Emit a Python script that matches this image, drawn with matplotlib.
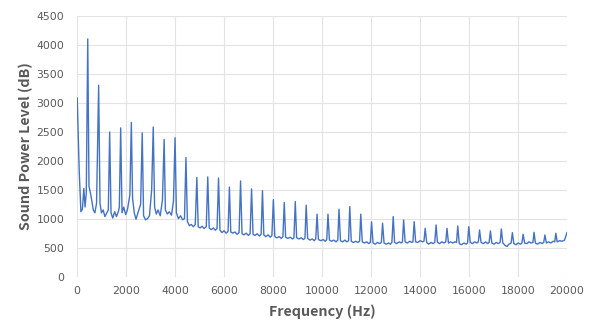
import matplotlib
matplotlib.use("Agg")
import matplotlib.pyplot as plt

plt.rcParams['font.family'] = ['Noto Sans CJK JP', 'DejaVu Sans']

# Harmonic peaks (Hz, level)
peak_freq = [430, 875, 1325, 1775, 2210, 2655, 3105, 3550, 3995, 4440,
             4885, 5330, 5770, 6215, 6670, 7120, 7565, 8010, 8455, 8905,
             9350, 9795, 10240, 10690, 11130, 11580, 12020, 12470, 12905, 13330,
             13760, 14210, 14655, 15100, 15540, 15990, 16430, 16875, 17320, 17770,
             18210, 18655, 19100, 19545]
peak_level = [4100, 3300, 2495, 2565, 2660, 2480, 2580, 2365, 2395, 2055,
              1710, 1720, 1700, 1545, 1650, 1512, 1483, 1328, 1277, 1294,
              1232, 1077, 1077, 1163, 1208, 1077, 945, 922, 1036, 978,
              948, 834, 891, 834, 874, 862, 805, 788, 822, 759,
              731, 765, 719, 748]

# Background (between-peak) spectrum points
base_freq = [0, 80, 150, 210, 270, 320, 370,
             480, 540, 600, 655, 720, 790,
             930, 990, 1060, 1130, 1210, 1270,
             1380, 1450, 1530, 1600, 1680, 1720,
             1830, 1900, 1980, 2050, 2150,
             2260, 2330, 2400, 2480, 2590,
             2710, 2790, 2870, 2950, 3040,
             3160, 3230, 3300, 3390, 3480,
             3600, 3680, 3760, 3850, 3930,
             4050, 4130, 4220, 4300, 4380,
             4500, 4580, 4660, 4740, 4820,
             4940, 5020, 5100, 5180, 5270,
             5390, 5470, 5560, 5640, 5710,
             5830, 5910, 6000, 6080, 6160,
             6270, 6350, 6440, 6530, 6610,
             6730, 6810, 6900, 6990, 7060,
             7180, 7260, 7350, 7440, 7510,
             7620, 7700, 7800, 7880, 7950,
             8070, 8150, 8250, 8330, 8400,
             8510, 8600, 8700, 8790, 8850,
             8960, 9050, 9150, 9230, 9300,
             9410, 9500, 9600, 9680, 9740,
             9850, 9950, 10050, 10130, 10190,
             10300, 10390, 10480, 10570, 10640,
             10750, 10840, 10930, 11010, 11080,
             11190, 11280, 11370, 11460, 11530,
             11640, 11730, 11820, 11900, 11970,
             12080, 12170, 12260, 12350, 12420,
             12530, 12620, 12710, 12790, 12850,
             12960, 13050, 13150, 13230, 13280,
             13390, 13480, 13580, 13660, 13710,
             13820, 13910, 14000, 14100, 14160,
             14270, 14350, 14450, 14530, 14600,
             14710, 14800, 14890, 14980, 15050,
             15160, 15250, 15340, 15420, 15490,
             15600, 15690, 15790, 15880, 15940,
             16050, 16140, 16230, 16320, 16380,
             16490, 16580, 16680, 16760, 16820,
             16930, 17020, 17110, 17200, 17270,
             17380, 17470, 17550, 17630, 17720,
             17830, 17920, 18010, 18100, 18160,
             18270, 18360, 18450, 18540, 18610,
             18710, 18800, 18900, 18980, 19050,
             19160, 19250, 19340, 19430, 19500,
             19600, 19700, 19800, 19900, 20000]
base_level = [3080, 1840, 1120, 1160, 1520, 1200, 1440,
              1560, 1440, 1300, 1150, 1100, 1265,
              1265, 1100, 1150, 1035, 1100, 1150,
              1100, 1010, 1120, 1035, 1120, 1200,
              1100, 1200, 1070, 1150, 1410,
              1350, 1100, 990, 1100, 1250,
              1050, 980, 1000, 1050, 1495,
              1200, 1080, 1150, 1050, 1320,
              1150, 1080, 1120, 1060, 1300,
              1100, 1000, 1050, 980, 1000,
              950, 880, 900, 860, 900,
              860, 840, 870, 830, 860,
              840, 810, 840, 800, 830,
              800, 760, 790, 750, 780,
              770, 750, 770, 730, 760,
              740, 720, 750, 710, 740,
              730, 710, 740, 700, 730,
              720, 690, 720, 680, 710,
              690, 670, 690, 660, 690,
              680, 660, 680, 650, 670,
              670, 650, 670, 640, 660,
              660, 630, 650, 620, 650,
              640, 620, 640, 610, 640,
              630, 610, 630, 600, 630,
              620, 600, 630, 600, 620,
              610, 590, 610, 590, 610,
              600, 580, 600, 570, 590,
              580, 560, 590, 570, 590,
              580, 560, 580, 560, 590,
              590, 570, 600, 580, 600,
              600, 580, 610, 590, 600,
              600, 590, 620, 600, 610,
              590, 560, 590, 570, 590,
              590, 570, 600, 580, 600,
              580, 600, 580, 600, 590,
              570, 550, 580, 560, 580,
              590, 570, 600, 580, 600,
              590, 570, 600, 570, 590,
              580, 560, 590, 570, 590,
              580, 540, 520, 560, 580,
              570, 550, 580, 560, 580,
              580, 570, 600, 580, 590,
              580, 560, 590, 570, 590,
              580, 600, 580, 610, 600,
              600, 620, 610, 630, 760]

x_ticks = [0, 2000, 4000, 6000, 8000, 10000, 12000, 14000, 16000, 18000, 20000]
y_ticks = [0, 500, 1000, 1500, 2000, 2500, 3000, 3500, 4000, 4500]

pts = sorted(zip(peak_freq + base_freq, peak_level + base_level))
freq = [p[0] for p in pts]
level = [p[1] for p in pts]

fig = plt.figure(figsize=(5.94, 3.27), dpi=100)
ax = fig.add_axes([0.130, 0.154, 0.8245, 0.798])
ax.plot(freq, level, color='#4472C4', linewidth=1.0, zorder=3)

ax.set_xlim(0, 20000)
ax.set_ylim(0, 4500)
ax.set_xticks(x_ticks)
ax.set_yticks(y_ticks)
tick_font = dict(family='DejaVu Sans', size=7.8, color='#595959')
ax.set_xticklabels([str(v) for v in x_ticks], **tick_font)
ax.set_yticklabels([str(v) for v in y_ticks], **tick_font)
ax.grid(True, color='#E3E3E3', linewidth=0.8, zorder=0)
ax.set_axisbelow(True)
for s in ax.spines.values():
    s.set_visible(False)
ax.tick_params(axis='x', length=0, pad=6.5)
ax.tick_params(axis='y', length=0, pad=9.4)

ax.set_xlabel('Frequency (Hz)', fontsize=10.3, fontweight='bold', color='#595959', labelpad=6)
ax.set_ylabel('Sound Power Level (dB)', fontsize=10.3, fontweight='bold', color='#595959', labelpad=2)

fig.savefig('out.png', dpi=100)
